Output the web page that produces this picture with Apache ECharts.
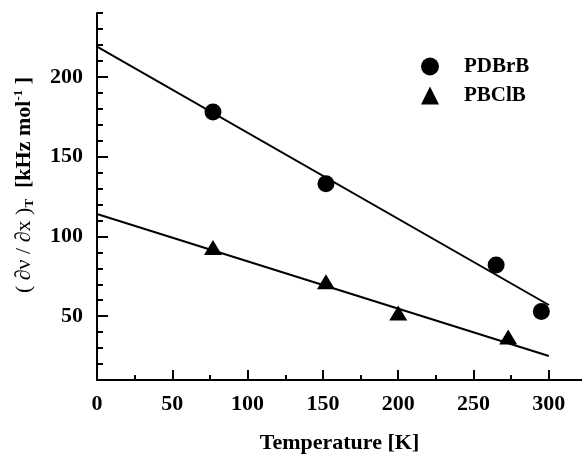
<!DOCTYPE html>
<html>
<head>
<meta charset="utf-8">
<script src="https://cdn.jsdelivr.net/npm/echarts@6/dist/echarts.min.js"></script>
<style>
  html, body { margin: 0; padding: 0; background: #fff; }
  #chart { width: 582px; height: 458px; }
</style>
</head>
<body>
<div id="chart"></div>
<script>
// measured points
const brTemp = [77, 152, 265, 295];
const brSlope = [178, 133, 82, 53];
const clTemp = [77, 152, 200, 273];
const clSlope = [93, 71.5, 52, 37];

// fitted lines at both ends
const brFitT = [0, 300];
const brFitV = [219, 57];
const clFitT = [0, 300];
const clFitV = [114, 25];

const xLabels = [0, 50, 100, 150, 200, 250, 300];
const xMinor = [25, 75, 125, 175, 225, 275];
const yLabels = [50, 100, 150, 200];
const yMinor = [20, 30, 40, 60, 70, 80, 90, 110, 120, 130, 140, 160, 170, 180, 190, 210, 220, 230, 240];

const pairs = (a, b) => a.map((v, i) => [v, b[i]]);

const font = '"Liberation Serif", "Times New Roman", serif';
const black = '#000';

const chart = echarts.init(document.getElementById('chart'));

chart.setOption({
  animation: false,
  grid: { left: 97, right: 0, top: 13, bottom: 78, outerBoundsMode: 'none', containLabel: false },
  legend: {
    data: ['PDBrB', 'PBClB'],
    orient: 'vertical',
    left: 416,
    top: 51,
    itemWidth: 18,
    itemHeight: 18,
    itemGap: 8,
    textStyle: { fontFamily: font, fontWeight: 'bold', fontSize: 21, color: black, padding: [0, 0, 0, 20] }
  },
  xAxis: [{
    type: 'value', min: 0, max: 322,
    axisLine: { lineStyle: { color: black, width: 2 } },
    axisTick: { inside: true, length: 10, customValues: xLabels, lineStyle: { color: black, width: 2 } },
    axisLabel: { customValues: xLabels, fontFamily: font, fontWeight: 'bold', fontSize: 22, color: black, margin: 13 },
    splitLine: { show: false },
    name: 'Temperature [K]',
    nameLocation: 'middle',
    nameGap: 52,
    nameTextStyle: { fontFamily: font, fontWeight: 'bold', fontSize: 22, color: black }
  }, {
    type: 'value', min: 0, max: 322, position: 'bottom',
    axisLine: { show: false },
    axisTick: { inside: true, length: 5, customValues: xMinor, lineStyle: { color: black, width: 2 } },
    axisLabel: { show: false },
    splitLine: { show: false }
  }],
  yAxis: [{
    type: 'value', min: 10, max: 240,
    axisLine: { show: true, lineStyle: { color: black, width: 2 } },
    axisTick: { show: true, inside: true, length: 11, customValues: yLabels, lineStyle: { color: black, width: 2 } },
    axisLabel: { customValues: yLabels, fontFamily: font, fontWeight: 'bold', fontSize: 22, color: black, margin: 14 },
    splitLine: { show: false }
  }, {
    type: 'value', min: 10, max: 240, position: 'left',
    axisLine: { show: false },
    axisTick: { show: true, inside: true, length: 6, customValues: yMinor, lineStyle: { color: black, width: 2 } },
    axisLabel: { show: false },
    splitLine: { show: false }
  }],
  graphic: [{
    type: 'text',
    x: 24,
    y: 185,
    rotation: Math.PI / 2,
    style: {
      text: '{n|( \u2202\u03bd / \u2202x )}{s|T}{b|  [kHz mol}{p|-1}{b| ]}',
      align: 'center',
      verticalAlign: 'middle',
      fill: black,
      rich: {
        n: { fontFamily: font, fontSize: 22, fill: black },
        s: { fontFamily: font, fontSize: 13, fontWeight: 'bold', fill: black, verticalAlign: 'bottom', padding: [9, 0, 0, 0] },
        b: { fontFamily: font, fontSize: 22, fontWeight: 'bold', fill: black },
        p: { fontFamily: font, fontSize: 13, fontWeight: 'bold', fill: black, verticalAlign: 'top', padding: [0, 0, 11, 0] }
      }
    }
  }],
  series: [{
    name: 'PDBrB fit', type: 'line', data: pairs(brFitT, brFitV),
    showSymbol: false, symbol: 'none', silent: true,
    lineStyle: { color: black, width: 2 }
  }, {
    name: 'PBClB fit', type: 'line', data: pairs(clFitT, clFitV),
    showSymbol: false, symbol: 'none', silent: true,
    lineStyle: { color: black, width: 2 }
  }, {
    name: 'PDBrB', type: 'scatter', data: pairs(brTemp, brSlope),
    symbol: 'circle', symbolSize: 17,
    itemStyle: { color: black, opacity: 1 }, z: 5
  }, {
    name: 'PBClB', type: 'scatter', data: pairs(clTemp, clSlope),
    symbol: 'triangle', symbolSize: [18, 15],
    itemStyle: { color: black, opacity: 1 }, z: 5
  }]
});
</script>
</body>
</html>
